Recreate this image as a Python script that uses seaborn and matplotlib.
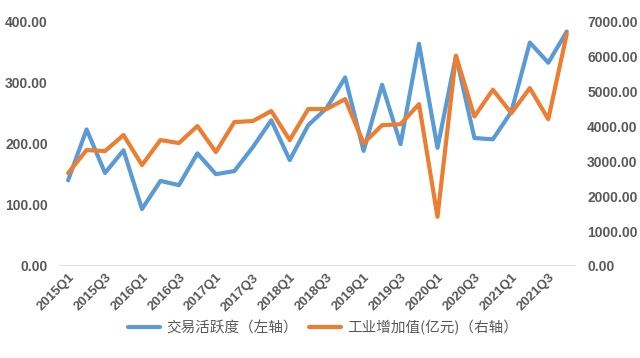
import matplotlib
matplotlib.use("Agg")
import matplotlib.pyplot as plt
import seaborn as sns
import pandas as pd

quarters = [
    "2015Q1", "2015Q2", "2015Q3", "2015Q4",
    "2016Q1", "2016Q2", "2016Q3", "2016Q4",
    "2017Q1", "2017Q2", "2017Q3", "2017Q4",
    "2018Q1", "2018Q2", "2018Q3", "2018Q4",
    "2019Q1", "2019Q2", "2019Q3", "2019Q4",
    "2020Q1", "2020Q2", "2020Q3", "2020Q4",
    "2021Q1", "2021Q2", "2021Q3", "2021Q4",
]
# left axis: trading activity
activity = [140, 223, 152, 189, 93, 139, 132, 184, 150, 155, 194, 238, 173, 230,
            258, 308, 188, 296, 199, 363, 193, 343, 209, 207, 252, 365, 332, 383]
# right axis: industrial value added (100m yuan)
industry = [2657, 3314, 3286, 3743, 2886, 3600, 3514, 4000, 3257, 4114, 4143, 4429,
            3600, 4486, 4486, 4771, 3509, 4025, 4054, 4627, 1405, 6013, 4273, 5038,
            4369, 5086, 4197, 6635]

label_left = "交易活跃度（左轴）"
label_right = "工业增加值(亿元)（右轴）"

BLUE = "#5B9BD5"
ORANGE = "#ED7D31"
GREY = "#595959"


def main():
    sns.set_theme(style="white")
    plt.rcParams["font.family"] = ["Liberation Sans", "Noto Sans CJK SC", "DejaVu Sans"]

    df = pd.DataFrame({"quarter": quarters, "activity": activity, "industry": industry})

    fig = plt.figure(figsize=(6.4, 3.58), dpi=100)
    ax = fig.add_axes([0.092, 0.257, 0.808, 0.684])
    ax2 = ax.twinx()

    sns.lineplot(data=df, x="quarter", y="activity", ax=ax, color=BLUE,
                 linewidth=3.0, sort=False, label=label_left, legend=False)
    sns.lineplot(data=df, x="quarter", y="industry", ax=ax2, color=ORANGE,
                 linewidth=3.0, sort=False, label=label_right, legend=False)

    ax.set_xlim(-0.5, len(quarters) - 0.5)
    ax.set_ylim(0, 400)
    ax2.set_ylim(0, 7000)
    ax.set_yticks(range(0, 401, 100))
    ax2.set_yticks(range(0, 7001, 1000))
    ax.set_yticklabels([f"{v:.2f}" for v in range(0, 401, 100)])
    ax2.set_yticklabels([f"{v:.2f}" for v in range(0, 7001, 1000)])

    ax.set_xticks(range(0, len(quarters), 2))
    ax.set_xticklabels(quarters[::2], rotation=45, ha="right", rotation_mode="anchor")

    for a in (ax, ax2):
        a.set_xlabel("")
        a.set_ylabel("")
        for s in a.spines.values():
            s.set_visible(False)
        a.tick_params(length=0, colors=GREY, labelsize=10)
    ax.tick_params(axis="y", pad=8)
    ax2.tick_params(axis="y", pad=8)
    ax.tick_params(axis="x", pad=4, labelsize=9.5)
    ax.axhline(0, color="#D9D9D9", linewidth=1.2, zorder=0)

    for t in ax.get_yticklabels() + ax2.get_yticklabels() + ax.get_xticklabels():
        t.set_fontweight("bold")

    h1, l1 = ax.get_legend_handles_labels()
    h2, l2 = ax2.get_legend_handles_labels()
    fig.legend(h1 + h2, l1 + l2, loc="center", bbox_to_anchor=(0.505, 0.085), ncol=2,
               frameon=False, handlelength=2.2, columnspacing=0.8, handletextpad=0.4,
               prop={"family": ["Noto Sans CJK SC", "DejaVu Sans"], "size": 10.5},
               labelcolor=GREY)

    fig.savefig("out.png", dpi=100)
    plt.close(fig)


if __name__ == "__main__":
    main()
